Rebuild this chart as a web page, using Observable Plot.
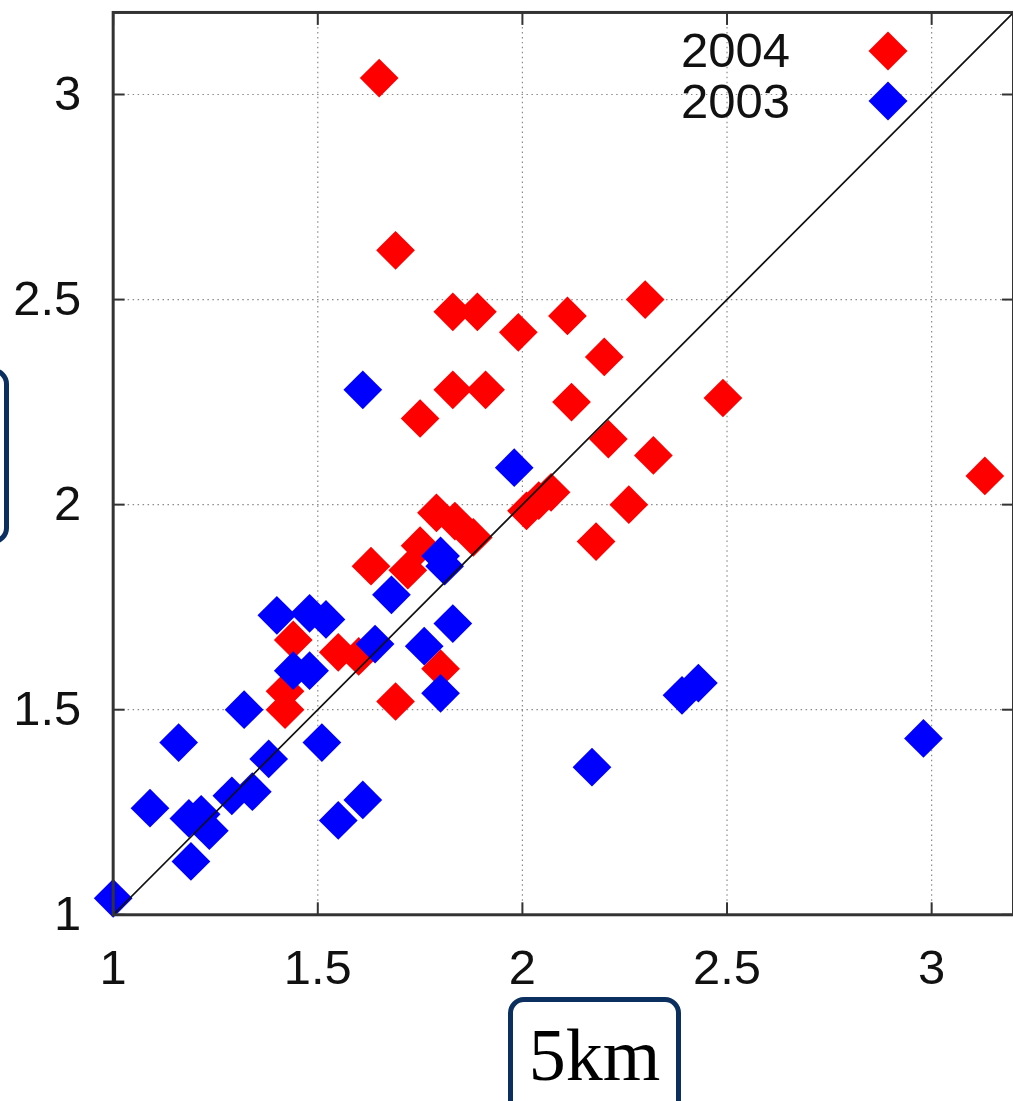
<!DOCTYPE html>
<html>
<head>
<meta charset="utf-8">
<script src="https://cdn.jsdelivr.net/npm/d3@7"></script>
<script src="https://cdn.jsdelivr.net/npm/@observablehq/plot@0.6"></script>
<style>
  html, body { margin: 0; padding: 0; background: #fff; overflow: hidden; }
  #wrap { position: relative; width: 1013px; height: 1101px; overflow: hidden; background: #fff; }
  #chart { position: absolute; left: 0; top: 0; }
  .leg-text { position: absolute; left: 580px; width: 210px; text-align: right;
    font-family: "Liberation Sans", Arial, Helvetica, sans-serif; font-size: 49px; line-height: 49px; color: #111; }
  .leg-sym { position: absolute; width: 40px; height: 40px; }
  .ybox { position: absolute; left: -150px; top: 368px; width: 159px; height: 176px; box-sizing: border-box;
    border: 5px solid #0b3060; border-radius: 16px; background: #fff; }
  .xbox { position: absolute; left: 508px; top: 997px; width: 173px; height: 140px; box-sizing: border-box;
    border: 5px solid #0b3060; border-radius: 16px; background: #fff; }
  .xlab { position: absolute; left: 508px; top: 1018px; width: 173px; text-align: center;
    font-family: "Liberation Serif", "Times New Roman", serif; font-size: 74px; line-height: 74px; color: #000; }
</style>
</head>
<body>
<div id="wrap">
  <div id="chart"></div>
</div>
<script>
// ---- data ----
const x2004 = [1.65, 1.69, 1.83, 1.89, 1.99, 2.11, 2.30, 2.20, 1.83, 1.91, 1.75, 2.12, 2.49, 2.21, 2.32, 2.26, 2.18,
               2.01, 2.04, 2.07, 1.79, 1.835, 1.88, 1.63, 1.72, 1.75, 1.44, 1.55, 1.60, 1.80, 1.69, 1.42, 1.42, 3.13];
const y2004 = [3.04, 2.62, 2.47, 2.47, 2.42, 2.46, 2.50, 2.36, 2.28, 2.28, 2.21, 2.25, 2.26, 2.16, 2.12, 2.00, 1.91,
               1.985, 2.01, 2.03, 1.98, 1.96, 1.92, 1.85, 1.84, 1.90, 1.67, 1.64, 1.63, 1.60, 1.52, 1.545, 1.50, 2.07];
const x2003 = [1.61, 1.98, 1.40, 1.48, 1.52, 1.44, 1.48, 1.64, 1.68, 1.80, 1.81, 1.83, 1.76, 1.80, 1.32, 1.16,
               1.38, 1.51, 1.29, 1.34, 1.09, 1.185, 1.215, 1.235, 1.19, 1.00, 1.55, 1.61, 2.17, 2.43, 2.39, 2.98];
const y2003 = [2.28, 2.09, 1.73, 1.735, 1.72, 1.595, 1.595, 1.66, 1.78, 1.875, 1.85, 1.71, 1.655, 1.54, 1.50, 1.42,
               1.38, 1.42, 1.29, 1.30, 1.26, 1.235, 1.245, 1.205, 1.13, 1.04, 1.23, 1.28, 1.36, 1.565, 1.535, 1.43];
const seriesNames = ["2004", "2003"];
const seriesColors = ["#ff0000", "#0000ff"];
const xTicks = [1, 1.5, 2, 2.5, 3];
const yTicks = [1, 1.5, 2, 2.5, 3];
const axisDomain = [1, 3.2];
const xAxisLabel = "5km";

// ---- build table ----
const pts2004 = x2004.map((x, i) => ({x, y: y2004[i], series: seriesNames[0]}));
const pts2003 = x2003.map((x, i) => ({x, y: y2003[i], series: seriesNames[1]}));

const font = "'Liberation Sans', Arial, Helvetica, sans-serif";
const T = 12; // inward tick length
const tickStyle = {tickSize: T, fill: "none", stroke: "#333", strokeWidth: 2};
const chart = Plot.plot({
  width: 1016,
  height: 995,
  marginLeft: 113,
  marginRight: 0,
  marginTop: 12,
  marginBottom: 78,
  x: {domain: axisDomain},
  y: {domain: axisDomain},
  style: {fontFamily: font, fontSize: "49px", color: "#111", background: "#fff", overflow: "visible"},
  marks: [
    Plot.gridX(xTicks, {stroke: "#8a8a8a", strokeOpacity: 1, strokeWidth: 1.2, strokeDasharray: "1.5,3.5"}),
    Plot.gridY(yTicks, {stroke: "#8a8a8a", strokeOpacity: 1, strokeWidth: 1.2, strokeDasharray: "1.5,3.5"}),
    Plot.dot(pts2004, {x: "x", y: "y", symbol: "diamond2", r: 17.5, fill: seriesColors[0], stroke: "none"}),
    Plot.dot(pts2003, {x: "x", y: "y", symbol: "diamond2", r: 17.5, fill: seriesColors[1], stroke: "none"}),
    Plot.line(axisDomain, {x: d => d, y: d => d, stroke: "#111", strokeWidth: 1.7, clip: true}),
    Plot.axisX(xTicks, {anchor: "bottom", dy: -T, ...tickStyle}),
    Plot.axisX(xTicks, {anchor: "top", dy: T, ...tickStyle}),
    Plot.axisY(yTicks, {anchor: "left", dx: T, ...tickStyle}),
    Plot.axisY(yTicks, {anchor: "right", dx: -T, ...tickStyle}),
    Plot.frame({stroke: "#333", strokeWidth: 3}),
    Plot.axisX(xTicks, {anchor: "bottom", tickSize: 0, tickPadding: 35, tickFormat: d => String(d),
      fontSize: 49, fill: "#111", label: null}),
    Plot.axisY(yTicks, {anchor: "left", tickSize: 0, tickPadding: 32, tickFormat: d => String(d),
      fontSize: 49, fill: "#111", label: null})
  ]
});
document.getElementById("chart").appendChild(chart);

// ---- legend (inside the plot, top right) and boxed axis labels ----
const wrap = document.getElementById("wrap");
const legTops = [26, 77];
const symTops = [31, 81];
seriesNames.forEach((name, i) => {
  const t = document.createElement("div");
  t.className = "leg-text";
  t.style.top = legTops[i] + "px";
  t.textContent = name;
  wrap.appendChild(t);
  const s = document.createElementNS("http://www.w3.org/2000/svg", "svg");
  s.setAttribute("class", "leg-sym");
  s.setAttribute("viewBox", "0 0 40 40");
  s.style.left = "868px";
  s.style.top = symTops[i] + "px";
  const p = document.createElementNS("http://www.w3.org/2000/svg", "polygon");
  p.setAttribute("points", "20,0.5 39.5,20 20,39.5 0.5,20");
  p.setAttribute("fill", seriesColors[i]);
  s.appendChild(p);
  wrap.appendChild(s);
});
const yb = document.createElement("div"); yb.className = "ybox"; wrap.appendChild(yb);
const xb = document.createElement("div"); xb.className = "xbox"; wrap.appendChild(xb);
const xl = document.createElement("div"); xl.className = "xlab"; xl.textContent = xAxisLabel; wrap.appendChild(xl);
</script>
</body>
</html>
